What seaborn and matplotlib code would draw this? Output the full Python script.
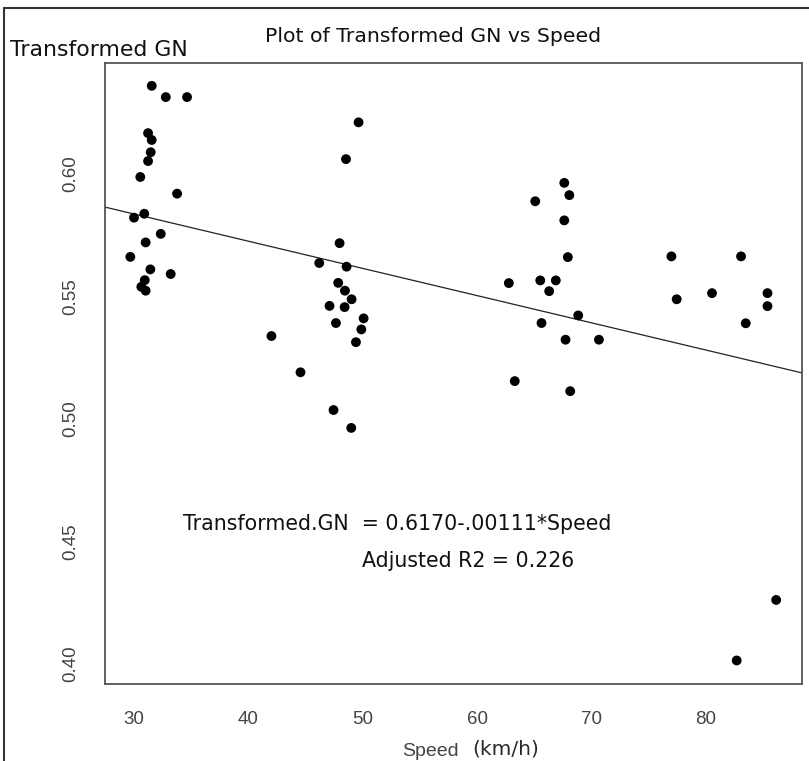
import numpy as np
import pandas as pd
import matplotlib
matplotlib.use("Agg")
import matplotlib.pyplot as plt
import seaborn as sns
from matplotlib.lines import Line2D

# ---- data ----
speed = [31.55, 32.78, 34.64, 31.23, 31.55, 31.46, 31.23, 30.55, 33.77, 30.00,
         30.90, 32.34, 31.02, 29.68, 31.43, 33.21, 30.94, 30.64, 31.02,
         49.64, 48.54, 47.98, 46.20, 48.59, 47.86, 48.45, 49.03, 47.10, 48.42,
         50.08, 47.66, 49.88, 49.41, 42.02, 44.56, 47.45, 49.00,
         67.63, 68.07, 65.09, 67.63, 67.94, 62.78, 65.53, 66.89, 66.31, 68.85,
         65.64, 67.74, 70.66, 63.30, 68.15,
         77.00, 83.09, 77.46, 80.55, 85.40, 85.40, 83.50, 86.16, 82.71]
gn = [0.6360, 0.6314, 0.6314, 0.6167, 0.6139, 0.6089, 0.6053, 0.5988, 0.5920, 0.5822,
      0.5838, 0.5756, 0.5721, 0.5662, 0.5611, 0.5592, 0.5567, 0.5540, 0.5524,
      0.6211, 0.6061, 0.5718, 0.5637, 0.5622, 0.5556, 0.5524, 0.5489, 0.5462, 0.5457,
      0.5411, 0.5392, 0.5366, 0.5314, 0.5339, 0.5191, 0.5037, 0.4964,
      0.5964, 0.5914, 0.5889, 0.5811, 0.5661, 0.5555, 0.5566, 0.5566, 0.5522, 0.5423,
      0.5392, 0.5324, 0.5324, 0.5155, 0.5114,
      0.5664, 0.5664, 0.5489, 0.5514, 0.5514, 0.5461, 0.5391, 0.4262, 0.4015]
intercept = 0.6170
slope = -0.00111
x_ticks = [30, 40, 50, 60, 70, 80]
y_ticks = [0.40, 0.45, 0.50, 0.55, 0.60]
y_tick_labels = ["0.40", "0.45", "0.50", "0.55", "0.60"]

df = pd.DataFrame({"Speed": speed, "GN": gn})

sns.set_style("white")
plt.rcParams["font.family"] = ["DejaVu Sans"]

W, H = 809, 761
fig = plt.figure(figsize=(W / 100, H / 100), dpi=100)
ax = fig.add_axes([104.5 / W, 1 - 683.5 / H, (802 - 104.5) / W, (683.5 - 62.8) / H])

sns.scatterplot(data=df, x="Speed", y="GN", ax=ax, color="black", s=50,
                edgecolor="none", linewidth=0, zorder=3)
ax.axline((0, intercept), slope=slope, color="#222222", lw=0.9, zorder=2)

ax.set_xlim(27.42, 88.42)
ax.set_ylim(0.3921, 0.6454)
ax.set_xticks(x_ticks)
ax.set_yticks(y_ticks)
ax.set_xticklabels([str(t) for t in x_ticks], fontfamily="Liberation Sans",
                   fontsize=13.5, color="#444444")
ax.set_yticklabels(y_tick_labels, fontfamily="Liberation Sans", fontsize=13.5,
                   color="#444444", rotation=90, va="center")
ax.tick_params(axis="both", direction="out", length=11, width=1.2, color="#555555")
ax.tick_params(axis="x", pad=9)
ax.tick_params(axis="y", pad=7)
for sp in ax.spines.values():
    sp.set_color("#555555")
    sp.set_linewidth(1.3)
ax.set_xlabel("")
ax.set_ylabel("")

# outer frame lines
fig.add_artist(Line2D([4 / W, 4 / W], [0, 1 - 8 / H], transform=fig.transFigure,
                      color="#333333", lw=1.5))
fig.add_artist(Line2D([4 / W, 1], [1 - 8 / H, 1 - 8 / H], transform=fig.transFigure,
                      color="#333333", lw=1.5))

fig.text(433 / W, 1 - 37 / H, "Plot of Transformed GN vs Speed", ha="center",
         va="center", fontsize=14.7, color="#111111")
fig.text(10 / W, 1 - 50 / H, "Transformed GN", ha="left", va="center",
         fontsize=15.8, color="#111111")
fig.text(183 / W, 1 - 524 / H, "Transformed.GN  = 0.6170-.00111*Speed", ha="left",
         va="center", fontsize=14.8, color="#111111")
fig.text(362 / W, 1 - 561 / H, "Adjusted R2 = 0.226", ha="left", va="center",
         fontsize=14.8, color="#111111")
fig.text(459 / W, 1 - 751 / H, "Speed", ha="right", va="center",
         fontfamily="Liberation Sans", fontsize=14, color="#444444")
fig.text(472 / W, 1 - 749 / H, "(km/h)", ha="left", va="center",
         fontsize=14.5, color="#2a2a2a")

fig.savefig("out.png", dpi=100)
